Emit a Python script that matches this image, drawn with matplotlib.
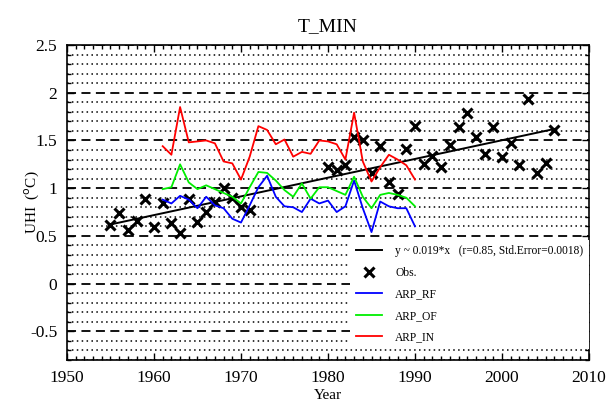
import matplotlib.pyplot as plt
from matplotlib.ticker import MultipleLocator

plt.rcParams['font.family'] = ['Liberation Serif', 'DejaVu Serif']

# observed UHI (degC)
obs_years = [1955, 1956, 1957, 1958, 1959, 1960, 1961, 1962, 1963, 1964,
             1965, 1966, 1967, 1968, 1969, 1970, 1971,
             1980, 1981, 1982, 1983, 1984, 1985, 1986, 1987, 1988, 1989,
             1990, 1991, 1992, 1993, 1994, 1995, 1996, 1997, 1998, 1999,
             2000, 2001, 2002, 2003, 2004, 2005, 2006]
obs_vals = [0.61, 0.74, 0.56, 0.66, 0.89, 0.59, 0.84, 0.64, 0.53, 0.89,
            0.65, 0.75, 0.86, 1.00, 0.90, 0.80, 0.77,
            1.22, 1.19, 1.24, 1.54, 1.50, 1.16, 1.44, 1.06, 0.94, 1.41,
            1.65, 1.25, 1.34, 1.22, 1.45, 1.64, 1.79, 1.54, 1.36, 1.64,
            1.33, 1.47, 1.24, 1.93, 1.16, 1.26, 1.61]

# model runs 1961-1990
arp_years = list(range(1961, 1991))
arp_rf = [0.88, 0.84, 0.92, 0.88, 0.79, 0.91, 0.82, 0.79, 0.68, 0.64,
          0.82, 1.01, 1.13, 0.91, 0.81, 0.80, 0.75, 0.89, 0.84, 0.87,
          0.75, 0.81, 1.08, 0.79, 0.54, 0.86, 0.81, 0.79, 0.79, 0.60]
arp_of = [0.99, 1.01, 1.25, 1.06, 0.99, 1.03, 0.99, 0.95, 0.91, 0.84,
          1.01, 1.17, 1.16, 1.08, 0.98, 0.91, 1.05, 0.89, 1.01, 1.01,
          0.97, 0.93, 1.12, 0.91, 0.79, 0.93, 0.95, 0.93, 0.90, 0.81]
arp_in = [1.44, 1.35, 1.85, 1.48, 1.49, 1.50, 1.47, 1.28, 1.26, 1.09,
          1.33, 1.65, 1.61, 1.46, 1.51, 1.33, 1.38, 1.36, 1.50, 1.49,
          1.46, 1.30, 1.79, 1.28, 1.07, 1.22, 1.35, 1.30, 1.24, 1.09]

# linear trend
trend_years = [1955, 2006]
trend_vals = [0.62, 1.62]

fig = plt.figure(figsize=(6.1, 4.12), dpi=100)
ax = fig.add_axes([0.1098, 0.1262, 0.8558, 0.7646])

ax.plot(trend_years, trend_vals, color='k', lw=1.4,
        label='y ~ 0.019*x   (r=0.85, Std.Error=0.0018)')
ax.plot(obs_years, obs_vals, 'x', color='k', ms=7.5, mew=2.2, label='Obs.')
ax.plot(arp_years, arp_rf, color='#0000ff', lw=1.3, label='ARP_RF')
ax.plot(arp_years, arp_of, color='#00ee00', lw=1.3, label='ARP_OF')
ax.plot(arp_years, arp_in, color='#ff0000', lw=1.3, label='ARP_IN')

ax.set_xlim(1950, 2010)
ax.set_ylim(-0.8, 2.5)
ax.xaxis.set_major_locator(MultipleLocator(10))
ax.xaxis.set_minor_locator(MultipleLocator(1))
ax.yaxis.set_major_locator(MultipleLocator(0.5))
ax.yaxis.set_minor_locator(MultipleLocator(0.1))
ax.set_yticks([-0.5, 0, 0.5, 1, 1.5, 2, 2.5])
ax.set_yticklabels(['-0.5', '0', '0.5', '1', '1.5', '2', '2.5'])

ax.grid(which='major', axis='y', color='k', ls=(0, (5, 3)), lw=1.3)
ax.grid(which='minor', axis='y', color='k', ls=(0, (1, 2.2)), lw=1.1)
ax.tick_params(which='both', direction='in', top=True, right=True,
               labelsize=12.5, width=1)
ax.tick_params(which='major', length=5, pad=7)
ax.tick_params(which='minor', length=3)
for s in ax.spines.values():
    s.set_linewidth(1.2)

ax.set_xlabel('Year', fontsize=11, labelpad=2)
ax.set_ylabel('UHI  ($^{\\mathrm{o}}$C)', fontsize=11, labelpad=-8)
ax.set_title('T_MIN', fontsize=14, pad=10)

leg = ax.legend(loc='lower right', bbox_to_anchor=(1.0, 0.035),
                borderaxespad=0, fontsize=8.3, labelspacing=0.82,
                handlelength=2.3, handletextpad=1.1, fancybox=False,
                framealpha=1, edgecolor='none', borderpad=0.5)
leg.get_frame().set_facecolor('white')

fig.savefig('out.png', dpi=100)
